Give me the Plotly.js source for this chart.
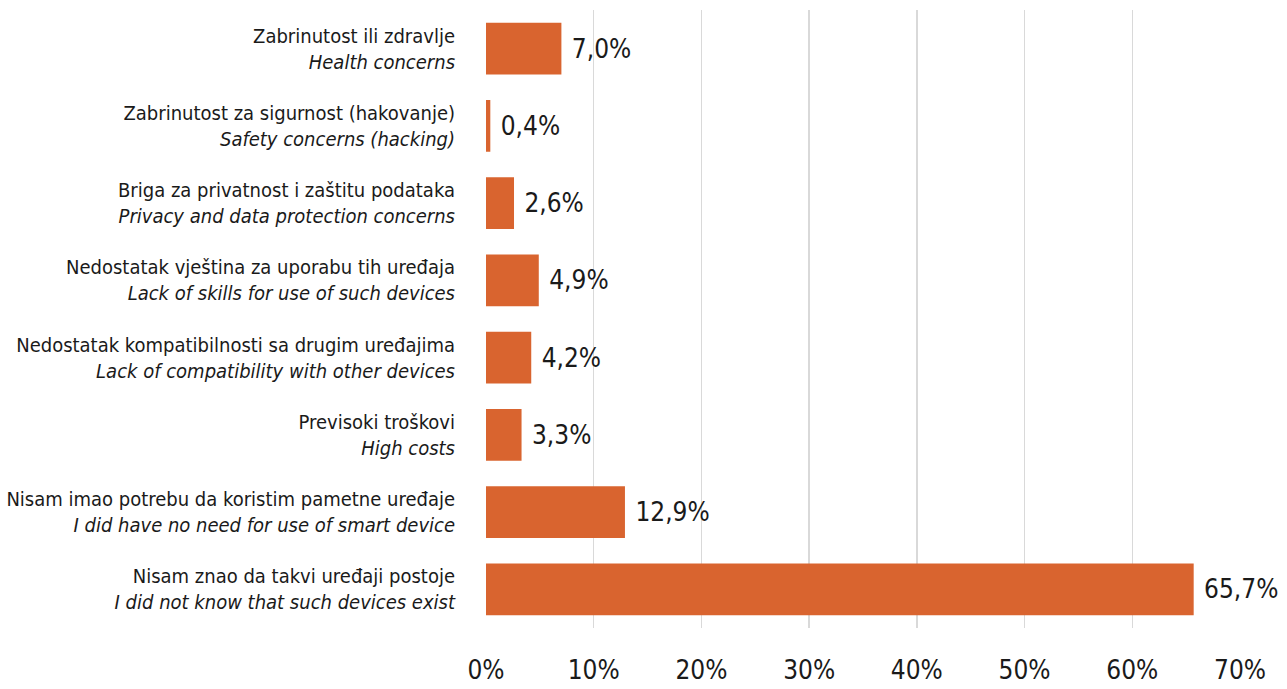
<!DOCTYPE html>
<html>
<head>
<meta charset="utf-8">
<script src="https://cdn.plot.ly/plotly-3.0.1.min.js"></script>
<style>
  html, body { margin: 0; padding: 0; background: #fff; }
  #chart { width: 1287px; height: 689px; }
</style>
</head>
<body>
<div id="chart"></div>
<script>
var labelsLocal = [
  'Zabrinutost ili zdravlje',
  'Zabrinutost za sigurnost (hakovanje)',
  'Briga za privatnost i zaštitu podataka',
  'Nedostatak vještina za uporabu tih uređaja',
  'Nedostatak kompatibilnosti sa drugim uređajima',
  'Previsoki troškovi',
  'Nisam imao potrebu da koristim pametne uređaje',
  'Nisam znao da takvi uređaji postoje'
];
var labelsEnglish = [
  'Health concerns',
  'Safety concerns (hacking)',
  'Privacy and data protection concerns',
  'Lack of skills for use of such devices',
  'Lack of compatibility with other devices',
  'High costs',
  'I did have no need for use of smart device',
  'I did not know that such devices exist'
];
var shares = [7.0, 0.4, 2.6, 4.9, 4.2, 3.3, 12.9, 65.7];

var font = '"DejaVu Sans Condensed", "Liberation Sans Narrow", "Roboto", sans-serif';

var cats = labelsLocal.map(function (s, i) {
  return s + '<br><i>' + labelsEnglish[i] + '</i>';
});
var texts = shares.map(function (v) {
  return ' ' + v.toFixed(1).replace('.', ',') + '%';
});

var trace = {
  type: 'bar',
  orientation: 'h',
  x: shares,
  y: cats,
  text: texts,
  textposition: 'outside',
  cliponaxis: false,
  textfont: { family: font, size: 26, color: '#1a1a1a' },
  marker: { color: '#d9642f' },
  hoverinfo: 'none'
};

var layout = {
  width: 1287,
  height: 689,
  margin: { l: 486, r: 47, t: 10, b: 61 },
  paper_bgcolor: '#ffffff',
  plot_bgcolor: '#ffffff',
  showlegend: false,
  bargap: 0.33,
  font: { family: font, color: '#1a1a1a' },
  xaxis: {
    range: [0, 70],
    dtick: 10,
    ticksuffix: '%',
    showgrid: true,
    gridcolor: '#d9d9d9',
    gridwidth: 1.5,
    zeroline: false,
    showline: false,
    ticks: '',
    ticklabelstandoff: 24,
    tickfont: { family: font, size: 26, color: '#1a1a1a' }
  },
  yaxis: {
    autorange: 'reversed',
    showgrid: false,
    zeroline: false,
    showline: false,
    ticks: '',
    ticklabelstandoff: 30,
    tickfont: { family: font, size: 20, color: '#1a1a1a' }
  }
};

Plotly.newPlot('chart', [trace], layout, { displayModeBar: false, staticPlot: true });
</script>
</body>
</html>
